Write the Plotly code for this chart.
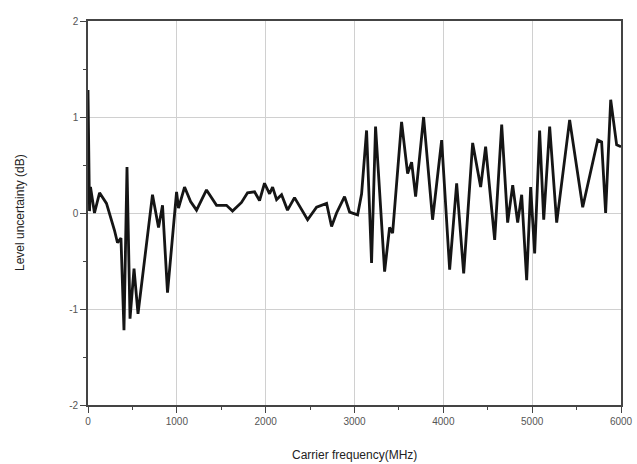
import plotly.graph_objects as go

freq_mhz = [0, 17, 28, 73, 130, 208, 298, 332, 371, 405, 439, 473, 518, 563,
            726, 794, 839, 895, 997, 1019, 1087, 1155, 1222, 1334, 1447, 1559,
            1627, 1728, 1796, 1875, 1931, 1987, 2044, 2078, 2123, 2179, 2246,
            2325, 2472, 2573, 2686, 2742, 2798, 2888, 2945, 3035, 3080, 3136,
            3192, 3237, 3339, 3395, 3429, 3530, 3598, 3643, 3688, 3778, 3879,
            3981, 4071, 4150, 4229, 4330, 4420, 4476, 4578, 4657, 4724, 4781,
            4837, 4882, 4938, 4983, 5028, 5084, 5130, 5197, 5276, 5422, 5569,
            5738, 5782, 5827, 5884, 5951, 6000]
level_db = [1.28, 0.02, 0.27, 0.0, 0.21, 0.10, -0.18, -0.31, -0.26, -1.22, 0.48,
            -1.10, -0.58, -1.05, 0.19, -0.15, 0.08, -0.83, 0.22, 0.05, 0.27,
            0.12, 0.03, 0.24, 0.08, 0.08, 0.02, 0.11, 0.21, 0.22, 0.13, 0.31,
            0.20, 0.27, 0.14, 0.19, 0.03, 0.16, -0.07, 0.06, 0.10, -0.14, 0.0,
            0.17, 0.01, -0.02, 0.20, 0.86, -0.52, 0.90, -0.61, -0.15, -0.21,
            0.95, 0.41, 0.53, 0.17, 1.00, -0.07, 0.76, -0.59, 0.31, -0.63, 0.73,
            0.27, 0.69, -0.28, 0.92, -0.10, 0.29, -0.10, 0.19, -0.70, 0.27,
            -0.42, 0.86, -0.07, 0.90, -0.10, 0.97, 0.06, 0.76, 0.74, 0.0, 1.18,
            0.71, 0.69]

x_ticks = [0, 1000, 2000, 3000, 4000, 5000, 6000]
x_tick_labels = ["0", "1000", "2000", "3000", "4000", "5000", "6000"]
y_ticks = [-2, -1, 0, 1, 2]
y_tick_labels = ["-2", "-1", "0", "1", "2"]

FONT = "Liberation Sans, Arial, sans-serif"
W, H = 637, 464
L, R, T, B = 88, 16, 21, 59

fig = go.Figure()
fig.add_trace(go.Scatter(
    x=freq_mhz, y=level_db, mode="lines",
    line=dict(color="#151515", width=2.8),
    showlegend=False,
))

axis_common = dict(
    showline=True, linecolor="#444444", linewidth=1.6, mirror=True,
    showgrid=True, gridcolor="#d0d0d0", gridwidth=1,
    ticks="outside", ticklen=6, tickwidth=1.2, tickcolor="#444444",
    tickfont=dict(family=FONT, size=10, color="#555555"),
    zeroline=False, automargin=False,
)

fig.update_xaxes(
    range=[0, 6000], tickvals=x_ticks, ticktext=x_tick_labels,
    minor=dict(dtick=500, ticks="outside", ticklen=3, tickcolor="#444444", showgrid=False),
    **axis_common,
)
fig.update_yaxes(
    range=[-2, 2], tickvals=y_ticks, ticktext=y_tick_labels,
    minor=dict(dtick=0.5, ticks="outside", ticklen=3, tickcolor="#444444", showgrid=False),
    **axis_common,
)

fig.add_annotation(
    text="Carrier frequency(MHz)", xref="paper", yref="paper",
    x=0.5, y=-(455 - (H - B)) / (H - T - B), xanchor="center", yanchor="middle",
    showarrow=False, font=dict(family=FONT, size=12, color="#222222"),
)
fig.add_annotation(
    text="Level uncertainty (dB)", xref="paper", yref="paper",
    x=-(L - 20) / (W - L - R), y=0.5, xanchor="center", yanchor="middle",
    textangle=-90, showarrow=False, font=dict(family=FONT, size=12, color="#222222"),
)

fig.update_layout(
    width=W, height=H,
    margin=dict(l=L, r=R, t=T, b=B, autoexpand=False),
    paper_bgcolor="white", plot_bgcolor="white",
)

fig.write_html(
    "out.html",
    config={"displayModeBar": False},
    post_script="document.body.style.margin='0';document.body.style.overflow='hidden';",
)
